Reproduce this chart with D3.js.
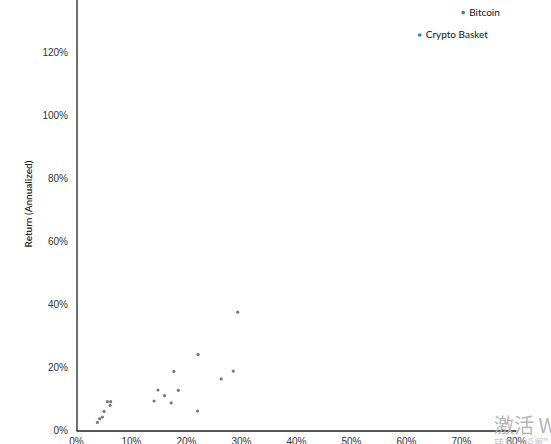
<!DOCTYPE html>
<html>
<head>
<meta charset="utf-8">
<script src="https://cdn.jsdelivr.net/npm/d3@7"></script>
<style>
  html, body { margin: 0; padding: 0; background: #fff; }
  svg { display: block; font-family: "Lato", "Open Sans", sans-serif; }
</style>
</head>
<body>
<svg id="chart" width="551" height="444"></svg>
<script>
// Asset classes: annualized risk (x) vs annualized return (y), in percent
const riskValues = [29.4, 22.2, 17.8, 28.6, 26.4, 14.9, 18.6, 16.1, 14.2, 17.3, 22.1, 5.7, 6.3, 6.2, 5.1, 4.8, 4.3, 3.9];
const returnValues = [37.4, 24.0, 18.6, 18.7, 16.2, 12.7, 12.6, 10.9, 9.2, 8.6, 6.0, 9.0, 9.0, 7.8, 5.9, 4.1, 3.6, 2.4];

// Highlighted crypto assets
const cryptoNames = ["Bitcoin", "Crypto Basket"];
const cryptoRisk = [70.4, 62.5];
const cryptoReturn = [132.5, 125.4];

const xTicks = [0, 10, 20, 30, 40, 50, 60, 70, 80];
const yTicks = [0, 20, 40, 60, 80, 100, 120, 140];

const svg = d3.select("#chart");

const x = d3.scaleLinear().domain([0, 80]).range([76, 516]);
const y = d3.scaleLinear().domain([0, 140]).range([430, -11]);

const fmt = d => d + "%";

// y axis
const yAxis = svg.append("g")
  .attr("transform", "translate(77,0)")
  .call(d3.axisLeft(y).tickValues(yTicks).tickFormat(fmt).tickSize(0).tickPadding(9));
yAxis.select(".domain").attr("stroke", "#333").attr("stroke-width", 1.4).attr("d", "M0,-20V431");
yAxis.selectAll("text").attr("font-size", 10).attr("fill", "#333");

// x axis
const xAxis = svg.append("g")
  .attr("transform", "translate(0,430.5)")
  .call(d3.axisBottom(x).tickValues(xTicks).tickFormat(fmt).tickSize(0).tickPadding(7));
xAxis.select(".domain").attr("stroke", "#222").attr("stroke-width", 1.4);
xAxis.selectAll("text").attr("font-size", 10).attr("fill", "#333");

// y axis title
svg.append("text")
  .attr("transform", "translate(32,204) rotate(-90)")
  .attr("text-anchor", "middle")
  .attr("font-size", 10)
  .attr("font-weight", 600)
  .attr("fill", "#222")
  .text("Return (Annualized)");

// traditional assets
svg.append("g").selectAll("circle")
  .data(riskValues.map((r, i) => [r, returnValues[i]]))
  .join("circle")
  .attr("cx", d => x(d[0]))
  .attr("cy", d => y(d[1]))
  .attr("r", 1.6)
  .attr("fill", "#7a7a7a");

// crypto assets
const crypto = svg.append("g").selectAll("g")
  .data(cryptoNames.map((n, i) => ({ name: n, risk: cryptoRisk[i], ret: cryptoReturn[i] })))
  .join("g");
crypto.append("circle")
  .attr("cx", d => x(d.risk))
  .attr("cy", d => y(d.ret))
  .attr("r", 1.8)
  .attr("fill", "#2a8f86");
crypto.append("text")
  .attr("x", d => x(d.risk) + 6)
  .attr("y", d => y(d.ret) + 3.5)
  .attr("font-size", 10)
  .attr("fill", "#111")
  .text(d => d.name);

// system overlay text in the corner
svg.append("text")
  .attr("x", 494)
  .attr("y", 433)
  .attr("font-family", "Noto Sans CJK SC")
  .attr("font-size", 20)
  .attr("fill", "#b5b5b5")
  .text("激活 Windows");
svg.append("text")
  .attr("x", 494)
  .attr("y", 447)
  .attr("font-family", "Noto Sans CJK SC")
  .attr("font-size", 10)
  .attr("fill", "#c8c8c8")
  .text("转到“设置”以激活 Windows。");
</script>
</body>
</html>
